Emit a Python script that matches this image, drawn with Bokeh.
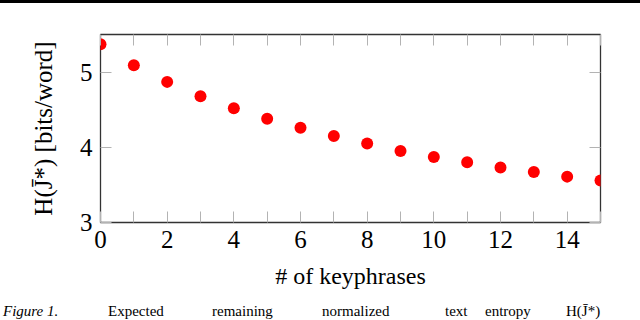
from bokeh.plotting import figure
from bokeh.layouts import column
from bokeh.models import LinearAxis, FixedTicker, Range1d, Div
from bokeh.embed import file_html
from bokeh.resources import INLINE

# ---- data ----
keyphrases = list(range(16))
entropy = [5.37, 5.09, 4.87, 4.68, 4.52, 4.38, 4.26, 4.15, 4.05,
           3.95, 3.87, 3.80, 3.73, 3.67, 3.61, 3.56]
x_ticks = list(range(16))
x_tick_labels = {i: (str(i) if i % 2 == 0 and i < 15 else "") for i in x_ticks}
y_ticks = [3, 4, 5]
x_label = "# of keyphrases"
y_label = "H(J\u0304*) [bits/word]"
caption_words = ["Figure 1.", "Expected", "remaining", "normalized", "text", "entropy", "H(J\u0304*)"]

# ---- layout constants ----
caption_x = [3, 108, 212, 322, 445, 485, 566]   # pixel positions of caption words
FONT = "Liberation Serif"
W = 640
BAR_H, PLOT_H, CAP_H = 3, 300, 17
L, R, T, B = 100, 40, 31, 81

bar = Div(text="", width=W, height=BAR_H, margin=0,
          styles={"background-color": "black"})

p = figure(width=W, height=PLOT_H, output_backend="svg", toolbar_location=None,
           x_range=Range1d(0, 15), y_range=Range1d(3, 5.5),
           min_border_left=L, min_border_right=R, min_border_top=T, min_border_bottom=B,
           x_axis_location=None, y_axis_location=None, margin=0)
p.xgrid.visible = False
p.ygrid.visible = False
p.outline_line_color = "#333333"
p.outline_line_width = 1.3
p.background_fill_color = "white"
p.border_fill_color = "white"

def style_axis(ax, ticks, labels=True):
    ax.ticker = FixedTicker(ticks=ticks)
    ax.axis_line_color = None
    ax.major_tick_in = 11
    ax.major_tick_out = 0
    ax.major_tick_line_color = "#b3b3b3"
    ax.major_tick_line_width = 1
    ax.minor_tick_line_color = None
    if labels:
        ax.major_label_text_font = FONT
        ax.major_label_text_font_size = "25px"
        ax.major_label_text_color = "black"
        ax.axis_label_text_font = FONT
        ax.axis_label_text_font_size = "24px"
        ax.axis_label_text_font_style = "normal"
        ax.axis_label_text_color = "black"
    else:
        ax.major_label_text_font_size = "0px"
        ax.major_label_text_color = None
        ax.major_label_standoff = 0

xb = LinearAxis(axis_label=x_label)
style_axis(xb, x_ticks)
xb.major_label_overrides = x_tick_labels
xb.major_label_standoff = 8
xb.axis_label_standoff = 12
p.add_layout(xb, "below")

xt = LinearAxis()
style_axis(xt, x_ticks, labels=False)
p.add_layout(xt, "above")

yl = LinearAxis(axis_label=y_label)
style_axis(yl, y_ticks)
yl.major_label_standoff = 8
yl.axis_label_standoff = 20
yl.axis_label_text_font_size = "25px"
p.add_layout(yl, "left")

yr = LinearAxis()
style_axis(yr, y_ticks, labels=False)
p.add_layout(yr, "right")

p.scatter(keyphrases, entropy, size=12, color="#ff0000", line_color=None)

# caption: each word in a fixed-width inline box so words land where they do in the source
spans = []
edges = caption_x + [W]
for i, word in enumerate(caption_words):
    w = edges[i + 1] - edges[i]
    style = f"display:inline-block;width:{w}px;"
    if word.startswith("Figure"):
        style += "font-style:italic;"
    spans.append(f"<span style='{style}'>{word}</span>")
cap_html = (f"<div style='margin-left:{caption_x[0]}px;white-space:nowrap;'>"
            + "".join(spans) + "</div>")
cap = Div(text=cap_html, width=W, height=CAP_H, margin=0,
          styles={"font-family": FONT, "font-size": "15px", "line-height": f"{CAP_H}px",
                  "color": "black", "background-color": "white"})

layout = column(bar, p, cap, spacing=0, margin=0)
open("out.html", "w").write(file_html(layout, INLINE))
